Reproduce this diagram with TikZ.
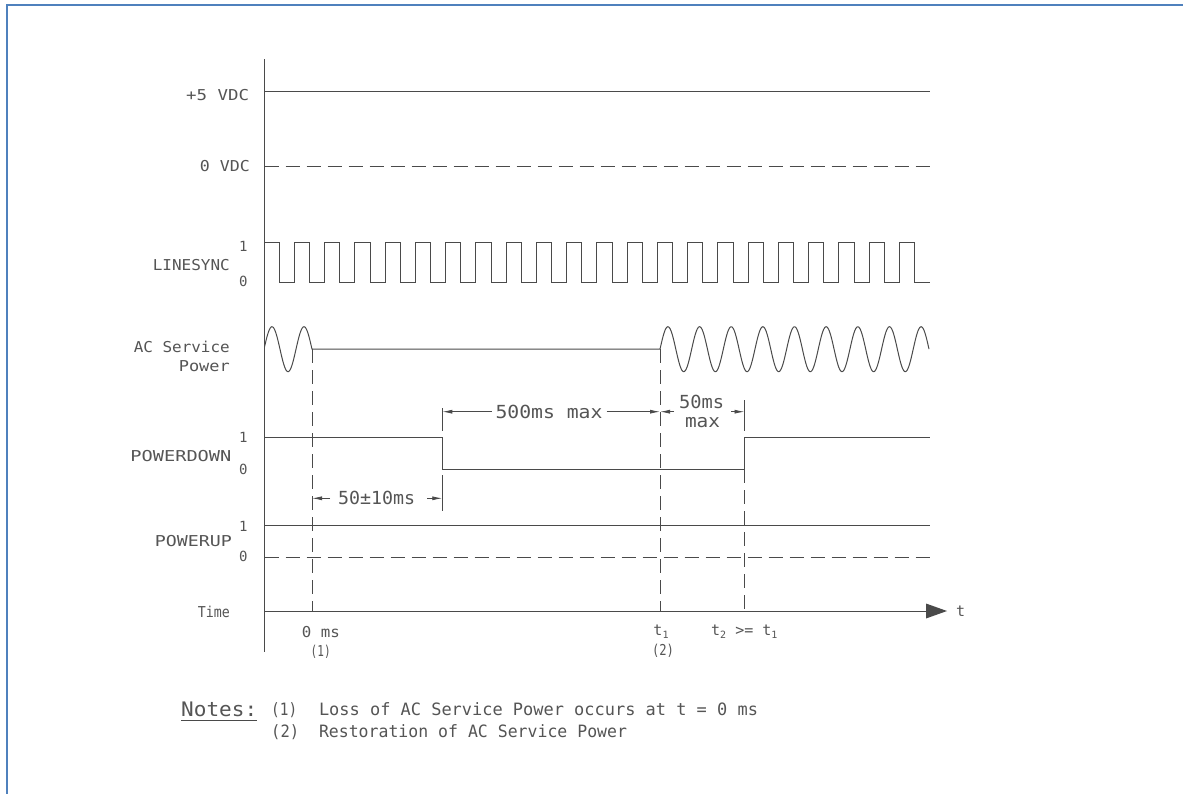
\documentclass[tikz,border=0pt]{standalone}
\usepackage{fontspec}
\usepackage{graphicx}
\usetikzlibrary{arrows.meta}
\newfontfamily\cad{DejaVu Sans Mono}
\definecolor{ink}{HTML}{4A4A4A}
\definecolor{txt}{HTML}{555555}
\definecolor{frameblue}{HTML}{4F81BD}
\newcommand\W[2]{\resizebox{#1pt}{\height}{#2}}
\newcommand\sub[1]{\raisebox{-0.45ex}{\fontsize{10}{10}\selectfont #1}}
\begin{document}
\begin{tikzpicture}[x=1pt,y=-1pt,
  wave/.style={draw=ink, line width=1pt},
  dashline/.style={draw=ink, line width=0.9pt, dash pattern=on 14pt off 7pt},
  lbl/.style={font=\cad\fontsize{15}{15}\selectfont, text=txt, inner sep=0pt},
  lvl/.style={font=\cad\fontsize{14}{14}\selectfont, text=txt, inner sep=0pt},
  dimtxt/.style={font=\cad\fontsize{18}{18}\selectfont, text=txt, inner sep=0pt},
  notetxt/.style={font=\cad\fontsize{17}{17}\selectfont, text=txt, inner sep=0pt},
  notehead/.style={font=\cad\fontsize{20}{20}\selectfont, text=txt, inner sep=0pt},
  dimarr/.style={draw=ink, line width=0.8pt, -{Latex[length=10pt,width=4pt]}}]
\useasboundingbox (0,0) rectangle (1183,793);
\clip (0,0) rectangle (1183,793);
\fill[white] (0,0) rectangle (1183,793);
\draw[frameblue, line width=2pt] (7,5) rectangle (1200,810);

% vertical axis
\draw[wave] (264.5,59) -- (264.5,652);

% +5 VDC and 0 VDC
\draw[wave] (264.5,91.5) -- (930,91.5);
\draw[dashline] (264.5,166.5) -- (930,166.5);

% LINESYNC
\draw[wave] (264.5,242) -- (279.3,242)
  \foreach \k in {0,...,20} { -- ++(0,40) -- ++(15,0) -- ++(0,-40) -- ++(15.25,0) }
  -- ++(0,40) -- (930,282);

% AC Service Power
\draw[wave] plot[domain=264.5:312, samples=60, smooth] (\x,{349.2-22.5*sin(11.25*(\x-264))})
  -- (660,349.2)
  -- plot[domain=660:929, samples=320, smooth] (\x,{349.2-22.5*sin(11.3744*(\x-660))});

% POWERDOWN
\draw[wave] (264.5,437.5) -- (442.3,437.5) -- (442.3,469) -- (744.5,469) -- (744.5,437.5) -- (930,437.5);

% POWERUP
\draw[wave] (264.5,525) -- (930,525);
\draw[dashline] (264.5,557) -- (930,557);

% Time axis
\draw[wave] (264.5,611) -- (926,611);
\fill[ink] (926,603.5) -- (947,611) -- (926,618.5) -- cycle;

% vertical dashed markers
\draw[dashline] (312,349.2) -- (312,611);
\draw[dashline] (660,349.2) -- (660,611);
\draw[dashline] (744.5,469) -- (744.5,611);

% extension lines
\draw[wave, line width=0.8pt] (442.3,408) -- (442.3,431);
\draw[wave, line width=0.8pt] (442.3,475) -- (442.3,510.5);
\draw[wave, line width=0.8pt] (744.5,400) -- (744.5,431);

% dimensions
\draw[dimarr] (491.5,411.7) -- (442.3,411.7);
\draw[dimarr] (606.7,411.7) -- (660,411.7);
\draw[dimarr] (674,411.7) -- (660,411.7);
\draw[dimarr] (731,411.7) -- (744.5,411.7);
\draw[dimarr] (330,498.3) -- (312,498.3);
\draw[dimarr] (427,498.3) -- (442.3,498.3);

\node[dimtxt] (d500) at (549,411.7) {\W{107}{500ms max}};
\node[dimtxt] (d50a) at (701.7,401.7) {\W{45}{50ms}};
\node[dimtxt] (d50b) at (702.5,423) {\W{35}{max}};
\node[dimtxt] (d5010) at (376.5,498.3) {\W{77}{50±10ms}};

% left labels
\node[lbl,anchor=east] (v5) at (249.3,94.8) {\W{63}{+5 VDC}};
\node[lbl,anchor=east] (v0) at (250,165.8) {\W{50}{0 VDC}};
\node[lbl,anchor=east] (ls) at (230,265) {\W{77}{LINESYNC}};
\node[lvl] (ls1) at (243.3,246.7) {1};
\node[lvl] (ls0) at (243.3,281.7) {0};
\node[lbl,anchor=east] (ac1) at (230,347.3) {\W{96}{AC Service}};
\node[lbl,anchor=east] (ac2) at (230,366) {\W{51}{Power}};
\node[lbl,anchor=east] (pd) at (231.6,456) {\W{101}{POWERDOWN}};
\node[lvl] (pd1) at (243.3,437.5) {1};
\node[lvl] (pd0) at (243.3,469.5) {0};
\node[lbl,anchor=east] (pu) at (232,541) {\W{77}{POWERUP}};
\node[lvl] (pu1) at (243.3,526) {1};
\node[lvl] (pu0) at (243.3,556) {0};
\node[lbl,anchor=east] (tm) at (230,612) {\W{32}{Time}};

% time labels
\node[lbl,anchor=west] (t0) at (301.7,631.7) {\W{38}{0 ms}};
\node[lbl] (n1) at (320.7,651.7) {\W{20}{(1)}};
\node[lbl,anchor=base] (t1) at (661,635) {t\sub{1}};
\node[lbl] (n2) at (663,650.7) {\W{22}{(2)}};
\node[lbl,anchor=base west] (t2) at (711,635) {t\sub{2} >= t\sub{1}};
\node[lbl,anchor=base] (tt) at (960.7,616.7) {t};

% notes
\node[notehead,anchor=base west] (nh) at (181,716) {\W{76}{Notes:}};
\draw[wave, line width=0.9pt] ([yshift=-4pt]nh.base west) -- ([yshift=-4pt]nh.base east);
\node[notetxt,anchor=base west] (nn1) at (271,715.5) {\W{26}{(1)}};
\node[notetxt,anchor=base west] (nl1) at (318.8,715.5) {\W{439}{Loss of AC Service Power occurs at t = 0 ms}};
\node[notetxt,anchor=base west] (nn2) at (271,737) {\W{28}{(2)}};
\node[notetxt,anchor=base west] (nl2) at (318.8,737) {\W{308}{Restoration of AC Service Power}};
\end{tikzpicture}
\end{document}
